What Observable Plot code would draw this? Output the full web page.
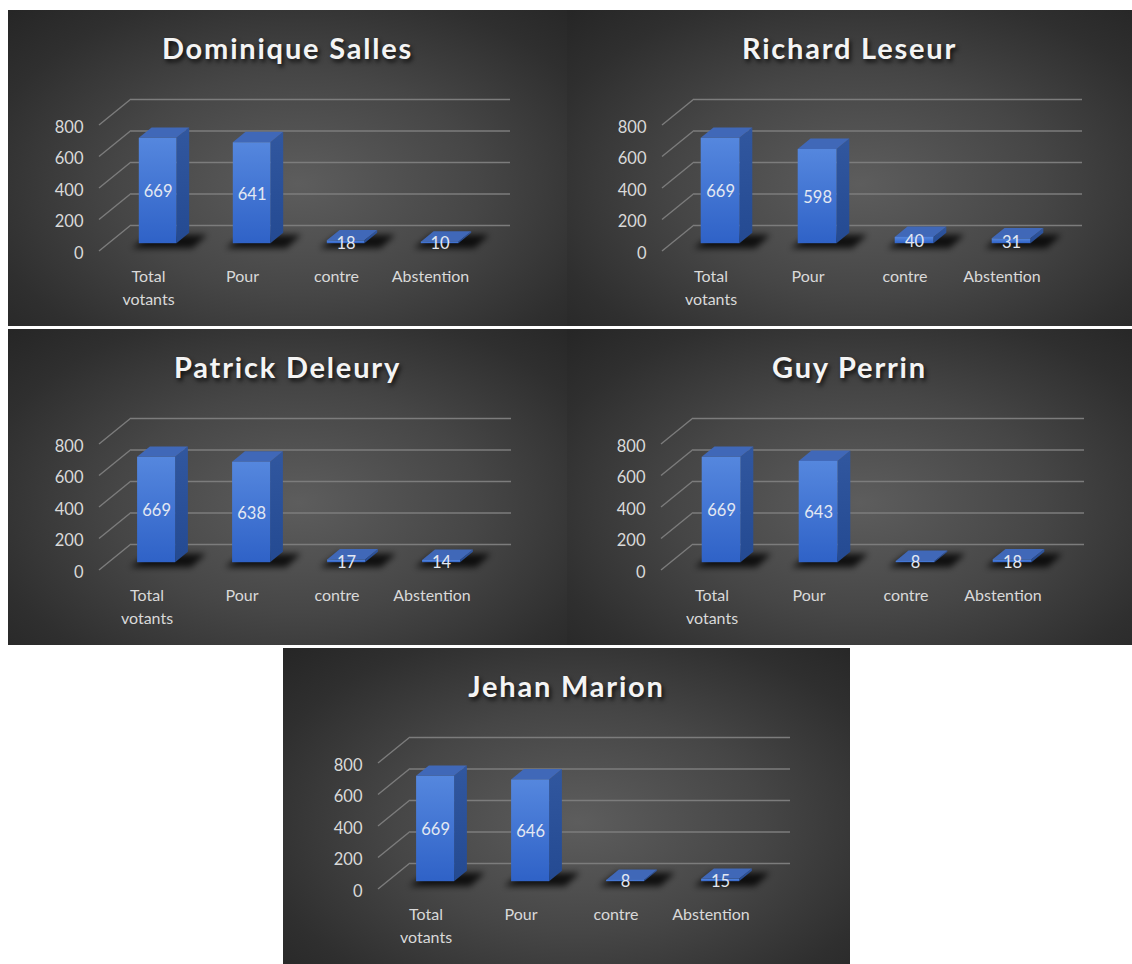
<!DOCTYPE html>
<html>
<head>
<meta charset="utf-8">
<script src="https://cdn.jsdelivr.net/npm/d3@7"></script>
<script src="https://cdn.jsdelivr.net/npm/@observablehq/plot@0.6"></script>
<style>
  html, body { margin: 0; padding: 0; background: #ffffff; }
  body { width: 1132px; height: 964px; position: relative; overflow: hidden; font-family: Lato, "Noto Sans", sans-serif; }
  .panel { position: absolute; overflow: hidden;
    background: radial-gradient(ellipse 72% 78% at 52% 55%, #5d5d5d 0%, #464646 45%, #2f2f2f 80%, #262626 100%); }
  .title { height: 70px; box-sizing: border-box; padding-top: 23px; text-align: center;
    font-family: Lato, "Noto Sans", sans-serif; font-weight: 700; font-size: 29px; line-height: 30px;
    letter-spacing: 1.8px; color: #f4f4f4; text-shadow: 2px 3px 4px rgba(0,0,0,0.75); }
  .panel svg { display: block; }
</style>
</head>
<body>
<script>
// ---- data ----
const categories = ["Total votants", "Pour", "contre", "Abstention"];
const candidates = ["Dominique Salles", "Richard Leseur", "Patrick Deleury", "Guy Perrin", "Jehan Marion"];
const totalVotants = [669, 669, 669, 669, 669];
const pour = [641, 598, 638, 643, 646];
const contre = [18, 40, 17, 8, 8];
const abstention = [10, 31, 14, 18, 15];
const yTicks = [0, 200, 400, 600, 800];

// ---- layout (positions / sizes only) ----
const layout = [
  {left: 8,   top: 10,  width: 559, height: 316, ml: 91, floorW: 379},
  {left: 567, top: 10,  width: 565, height: 316, ml: 95, floorW: 388},
  {left: 8,   top: 329, width: 559, height: 316, ml: 91, floorW: 380},
  {left: 567, top: 329, width: 565, height: 316, ml: 94, floorW: 391},
  {left: 283, top: 648, width: 567, height: 316, ml: 95, floorW: 380}
];
const DX = 32, DY = 26;          // floor depth (pixel offset of back wall)
const F = 0.3, B = 0.7;          // bar depth: front / back fraction
const SVG_H = 246;

function labelOf(c) { return c === "Total votants" ? "Total\nvotants" : c; }

candidates.forEach((name, k) => {
  const L = layout[k];
  const rows = categories.map((c, i) => ({
    category: c,
    value: [totalVotants, pour, contre, abstention][i][k]
  }));
  const uid = "p" + k;

  const panel = document.createElement("div");
  panel.className = "panel";
  Object.assign(panel.style, {left: L.left + "px", top: L.top + "px", width: L.width + "px", height: L.height + "px"});
  const title = document.createElement("div");
  title.className = "title";
  title.textContent = name;
  panel.appendChild(title);

  // diagonal lines from the front edge to the back wall
  function diagonals(index, scales, values, dim) {
    const g = d3.create("svg:g").attr("stroke", "#7c7c7c").attr("stroke-width", 1.4).attr("fill", "none");
    for (const i of index) {
      const v = yTicks[i];
      const x0 = dim.marginLeft, y0 = scales.y(v);
      g.append("line").attr("x1", x0).attr("y1", y0).attr("x2", x0 + DX).attr("y2", y0 - DY);
    }
    return g.node();
  }

  // 3D bars
  function bars3D(index, scales, values, dim) {
    const {x, y} = scales;
    const bw = x.bandwidth();
    const g = d3.create("svg:g");
    const defs = g.append("defs");
    const fg = defs.append("linearGradient").attr("id", uid + "front").attr("x1", 0).attr("y1", 0).attr("x2", 0).attr("y2", 1);
    fg.append("stop").attr("offset", "0%").attr("stop-color", "#5587de");
    fg.append("stop").attr("offset", "100%").attr("stop-color", "#2f62c7");
    const sg = defs.append("linearGradient").attr("id", uid + "side").attr("x1", 0).attr("y1", 0).attr("x2", 0).attr("y2", 1);
    sg.append("stop").attr("offset", "0%").attr("stop-color", "#31579f");
    sg.append("stop").attr("offset", "100%").attr("stop-color", "#244a92");
    const blur = defs.append("filter").attr("id", uid + "blur").attr("x", "-50%").attr("y", "-50%").attr("width", "200%").attr("height", "200%");
    blur.append("feGaussianBlur").attr("stdDeviation", 3);

    const pts = a => a.map(p => p.join(",")).join(" ");
    for (const i of index) {
      const d = rows[i];
      const xl = x(d.category) + bw * 0.3, xr = x(d.category) + bw * 0.7;
      const y0 = y(0), yv = y(d.value);
      const fx = F * DX, fy = -F * DY, bx = B * DX, by = -B * DY;
      // shadow on the floor
      g.append("polygon")
        .attr("points", pts([[xl + fx - 7, y0 + fy + 5], [xr + fx + 16, y0 + fy + 5], [xr + bx + 18, y0 + by + 2], [xl + bx - 2, y0 + by + 2]]))
        .attr("fill", "#000").attr("fill-opacity", 0.8).attr("filter", `url(#${uid}blur)`);
      // side face
      g.append("polygon")
        .attr("points", pts([[xr + fx, yv + fy], [xr + bx, yv + by], [xr + bx, y0 + by], [xr + fx, y0 + fy]]))
        .attr("fill", `url(#${uid}side)`);
      // top face
      g.append("polygon")
        .attr("points", pts([[xl + fx, yv + fy], [xr + fx, yv + fy], [xr + bx, yv + by], [xl + bx, yv + by]]))
        .attr("fill", "#4068b8");
      // front face
      g.append("rect")
        .attr("x", xl + fx).attr("y", yv + fy).attr("width", xr - xl).attr("height", Math.max(0.5, y0 - yv))
        .attr("fill", `url(#${uid}front)`);
    }
    return g.node();
  }

  const chart = Plot.plot({
    width: L.width,
    height: SVG_H,
    marginLeft: L.ml,
    marginRight: L.width - L.ml - L.floorW,
    marginTop: 45,
    marginBottom: SVG_H - 171,
    x: {domain: categories, padding: 0, axis: null},
    y: {domain: [0, 800], axis: null},
    style: {background: "transparent", color: "#d9d9d9", fontFamily: "Lato, 'Noto Sans', sans-serif", fontSize: "16px", overflow: "visible"},
    marks: [
      Plot.ruleY(yTicks, {dx: DX, dy: -DY, stroke: "#7c7c7c", strokeWidth: 1.4, strokeOpacity: 1}),
      Plot.ruleY(yTicks, {render: diagonals}),
      Plot.barY(rows, {x: "category", y: "value", render: bars3D}),
      Plot.text(rows, {x: "category", y: d => d.value / 2, text: d => String(d.value),
        dx: F * DX, dy: -F * DY + 1, fill: "#e3e8f2", fontSize: 16.5}),
      Plot.text(yTicks, {y: d => d, text: d => String(d), frameAnchor: "left", textAnchor: "end",
        dx: -16, dy: 2, fill: "#d9d9d9", fontSize: 16.5}),
      Plot.text(categories, {x: d => d, y: () => 0, text: labelOf, lineAnchor: "top",
        dy: 14, lineHeight: 1.45, fill: "#d9d9d9", fontSize: 16})
    ]
  });
  panel.appendChild(chart);
  document.body.appendChild(panel);
});
</script>
</body>
</html>
